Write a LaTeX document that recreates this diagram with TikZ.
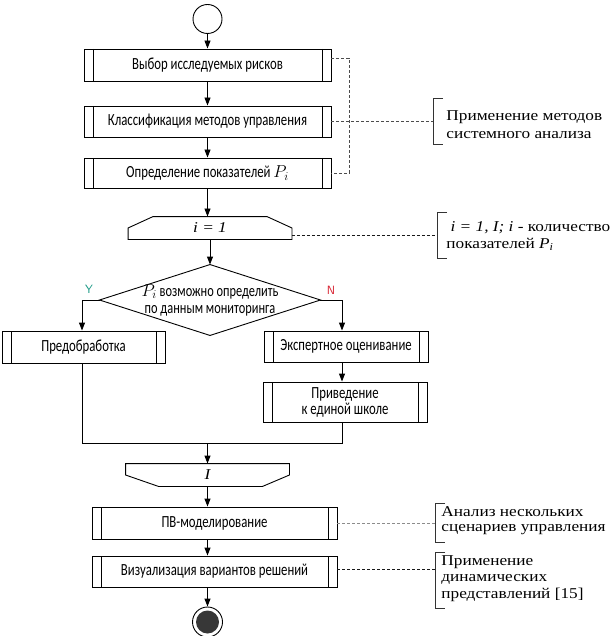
\documentclass[tikz,border=0pt]{standalone}
\usepackage{fontspec}
\setmainfont{Liberation Serif}
\newfontfamily\gostfont{Carlito}[FakeStretch=0.75]
\newfontfamily\notefont{Liberation Serif}[FakeStretch=1.15]
\usetikzlibrary{arrows.meta,shapes.geometric,calc}
\definecolor{yescol}{RGB}{20,150,130}
\definecolor{nocol}{RGB}{215,30,45}
\definecolor{endfill}{RGB}{55,55,55}
\begin{document}
\begin{tikzpicture}[x=1pt,y=-1pt,line width=0.9pt,
  every node/.style={font=\gostfont\fontsize{17}{16}\selectfont},
  proc/.style={draw, minimum width=247pt, minimum height=32pt, inner sep=0pt, align=center,
    path picture={\draw[line width=0.9pt]
      ([xshift=9pt]path picture bounding box.north west) -- ([xshift=9pt]path picture bounding box.south west)
      ([xshift=-9pt]path picture bounding box.north east) -- ([xshift=-9pt]path picture bounding box.south east);}},
  loopbox/.style={minimum width=163pt, minimum height=22pt, inner sep=0pt,
    font=\notefont\itshape\fontsize{15}{17}\selectfont},
  arr/.style={-{Triangle[length=8pt,width=6pt]}},
  note/.style={anchor=west, align=left, inner sep=0pt,
    font=\notefont\fontsize{15}{17.5}\selectfont},
  dashA/.style={dash pattern=on 3pt off 2pt, line width=0.8pt, black!70},
  dashB/.style={dash pattern=on 3pt off 2pt, line width=0.7pt, black!45},
  dashC/.style={dash pattern=on 3pt off 2pt, line width=0.8pt, black!90},
  brk/.style={line width=0.9pt, black!80}
]
\useasboundingbox (0,0) rectangle (612,636);

% start
\node[circle, draw, minimum size=29pt, inner sep=0pt] (start) at (207.5,19) {};

% first column of process boxes
\node[proc] (b1) at (207.5,65) {Выбор исследуемых рисков};
\node[proc, minimum height=31pt] (b2) at (207.5,121.5) {Классификация методов управления};
\node[proc, minimum height=30pt] (b3) at (207.5,173) {Определение показателей $P_i$};

% loop start
\node[loopbox] (ls) at (210,228) {i = 1};
\draw (ls.south west) -- (ls.south east) -- (ls.east)
  -- ($(ls.north east)+(-25,0)$) -- ($(ls.north west)+(25,0)$) -- (ls.west) -- cycle;

% decision
\node[minimum width=220pt, minimum height=70pt, inner sep=0pt, align=center,
  font=\gostfont\fontsize{16.5}{17}\selectfont] (dm) at (210,300)
  {$P_i$ возможно определить\\по данным мониторинга};
\draw (dm.north) -- (dm.east) -- (dm.south) -- (dm.west) -- cycle;

\node[proc, minimum width=163pt] (pre) at (83.5,347) {Предобработка};
\node[proc, minimum width=164pt, minimum height=31pt] (exp) at (346,346.5) {Экспертное оценивание};
\node[proc, minimum width=164pt, minimum height=40pt] (pr) at (345,402) {Приведение\\к единой школе};

\coordinate (yx) at (82,300);
\coordinate (nx) at (342,300);
\node[text=yescol, font=\sffamily\fontsize{12}{12}\selectfont] (ylab) at (89,289) {Y};
\node[text=nocol, font=\sffamily\fontsize{12}{12}\selectfont] (nlab) at (331,290) {N};

% merge
\coordinate (m1) at (82,443);
\coordinate (m2) at (342,443);
\coordinate (mc) at (207.5,443);

% loop end
\node[loopbox] (le) at (207.5,475) {I};
\draw (le.north west) -- (le.north east) -- (le.east)
  -- ($(le.south east)+(-27,0)$) -- ($(le.south west)+(33,0)$) -- (le.west) -- cycle;

\node[proc, minimum width=245pt] (pv) at (214.5,523) {ПВ-моделирование};
\node[proc, minimum width=245pt, minimum height=31pt] (viz) at (214.5,571.5) {Визуализация вариантов решений};

% end
\node[circle, draw, minimum size=30pt, inner sep=0pt] (end) at (207.5,622) {};
\fill[endfill] (end.center) circle[radius=11.5pt];

% connectors
\draw[arr] (start) -- (b1);
\draw[arr] (b1) -- (b2);
\draw[arr] (b2) -- (b3);
\draw[arr] (b3.south) -- (b3.south |- ls.north);
\draw[arr] (ls.south -| dm.north) -- (dm.north);
\draw[arr] (dm.west) -- (dm.west -| yx) -- (pre.north -| yx);
\draw[arr] (dm.east) -- (dm.east -| nx) -- (exp.north -| nx);
\draw[arr] (exp.south -| nx) -- (pr.north -| nx);
\draw (pre.south -| m1) -- (m1) -- (m2) -- (pr.south -| m2);
\draw[arr] (mc) -- (le.north -| mc);
\draw[arr] (le.south) -- (le.south |- pv.north);
\draw[arr] (pv.south -| le.south) -- (viz.north -| le.south);
\draw[arr] (viz.south -| le.south) -- (end.north);

% annotations
\coordinate (d1) at (349,58);
\coordinate (d2) at (349,173);
\draw[dashA] (b1.east |- d1) -- (d1) -- (d2) -- (b3.east |- d2);
\coordinate (k1) at (433,121);
\draw[dashA] (b2.east |- k1) -- (k1);
\draw[brk] (443,98) -- (433,98) -- (433,144) -- (443,144);
\node[note] (n1) at (446,124.5) {Применение методов\\системного анализа};

\coordinate (k2) at (437,235);
\draw[dashC] (ls.east |- k2) -- (k2);
\draw[brk] (447,212) -- (437,212) -- (437,258) -- (447,258);
\node[note] (n2) at (446,236) {\;\textit{i = 1, I; i} - количество\\показателей \textit{P\textsubscript{i}}};

\coordinate (k3) at (435,523);
\draw[dashB] (pv.east) -- (k3);
\draw[brk] (445,503) -- (435,503) -- (435,542) -- (445,542);
\node[note, font=\notefont\fontsize{15}{15.5}\selectfont] (n3) at (441,520.5) {Анализ нескольких\\сценариев управления};

\coordinate (k4) at (435,569);
\draw[dashC] (viz.east |- k4) -- (k4);
\draw[brk] (445,552) -- (435,552) -- (435,608) -- (445,608);
\node[note, font=\notefont\fontsize{15}{16.5}\selectfont] (n4) at (441,578.5) {Применение\\динамических\\представлений [15]};
\end{tikzpicture}
\end{document}
